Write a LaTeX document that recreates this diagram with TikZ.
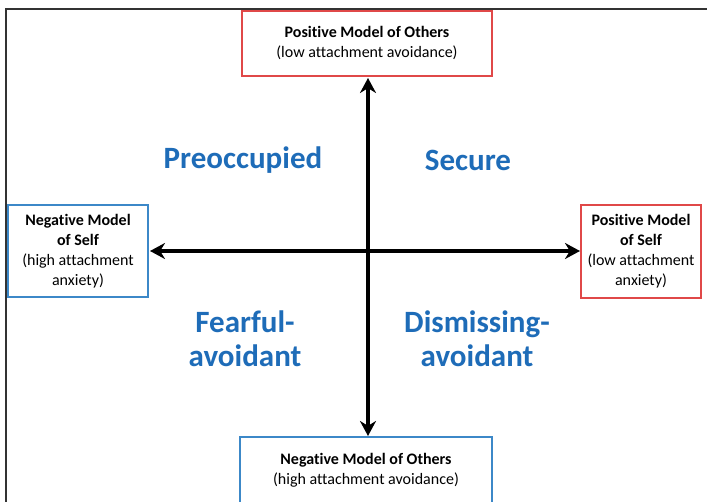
\documentclass[tikz,border=0pt]{standalone}
\usepackage{fontspec}
\setmainfont{Carlito}[Ligatures={NoCommon}]
\usetikzlibrary{arrows.meta}
\definecolor{boxred}{HTML}{E04848}
\definecolor{boxblue}{HTML}{3C88C8}
\definecolor{quadblue}{HTML}{1E6CB8}
\begin{document}
\begin{tikzpicture}[x=1pt,y=-1pt,
  redbox/.style={draw=boxred,line width=2.2pt,fill=white,align=center,inner sep=0pt},
  bluebox/.style={draw=boxblue,line width=2.2pt,fill=white,align=center,inner sep=0pt},
  boxtext/.style={font=\fontsize{16}{20}\selectfont,align=center},
  quad/.style={font=\fontsize{31}{34}\selectfont\bfseries,text=quadblue,align=center},
  axis/.style={line width=3.5pt,-{Stealth[length=15pt,width=16pt]}}]
\useasboundingbox (0,0) rectangle (707,502);
\fill[white] (0,0) rectangle (707,502);
\draw[line width=2pt,black!80] (6,502) -- (6,9) -- (707,9);
% boxes
\node[redbox,minimum width=250pt,minimum height=65pt] (top) at (367,43.5) {};
\node[boxtext] at (top.center) {\textbf{Positive Model of Others}\\(low attachment avoidance)};
\node[bluebox,minimum width=252pt,minimum height=70pt] (bot) at (366,472) {};
\node[boxtext] at (366,470) {\textbf{Negative Model of Others}\\(high attachment avoidance)};
\node[bluebox,minimum width=140pt,minimum height=92pt] (left) at (78,251) {};
\node[boxtext] at (left.center) {\textbf{Negative Model}\\\textbf{of Self}\\(high attachment\\anxiety)};
\node[redbox,minimum width=120pt,minimum height=93pt] (right) at (641,251.5) {};
\node[boxtext] at (right.center) {\textbf{Positive Model}\\\textbf{of Self}\\(low attachment\\anxiety)};
% axes
\coordinate (c) at (368,251);
\draw[axis] (c) -- (368,78);
\draw[axis] (c) -- (368,436);
\draw[axis] (c) -- (150,251);
\draw[axis] (c) -- (580,251);
% quadrant labels
\node[quad] (pre) at (243,160) {Preoccupied};
\node[quad] (sec) at (468,160) {Secure};
\node[quad] (fear) at (245,339) {Fearful-\\avoidant};
\node[quad] (dis) at (477,339) {Dismissing-\\avoidant};
\end{tikzpicture}
\end{document}
